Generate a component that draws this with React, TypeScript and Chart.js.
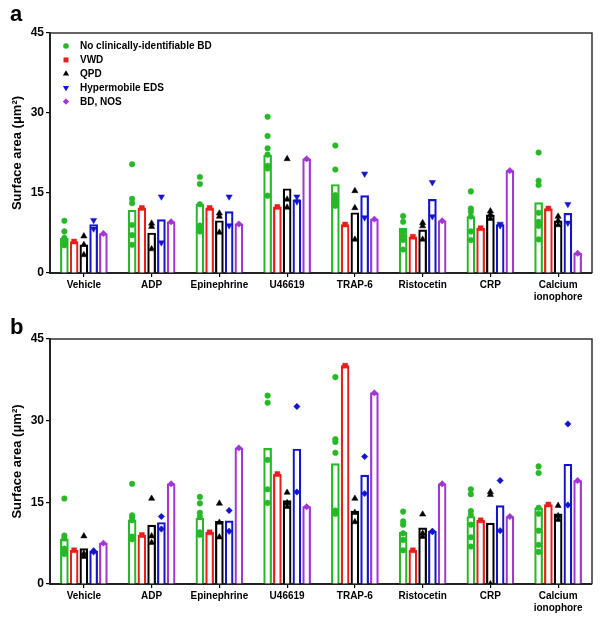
import React, { useEffect, useRef } from 'react';
import { Chart, registerables } from 'chart.js';
Chart.register(...registerables);

const categories: (string | string[])[] = ['Vehicle', 'ADP', 'Epinephrine', 'U46619', 'TRAP-6', 'Ristocetin', 'CRP', ['Calcium', 'ionophore']];
const seriesNames = ['No clinically-identifiable BD', 'VWD', 'QPD', 'Hypermobile EDS', 'BD, NOS'];
const seriesColors = ['#27b827', '#ec1c1c', '#000000', '#1414cc', '#a235d4'];
const yAxisTitle = 'Surface area (\u03bcm\u00b2)';
const yMin = 0;
const yMax = 45;
const yStep = 15;

// ---- Panel a: bar heights ----
const aNoBD = [6.5, 11.8, 12.9, 22.1, 16.6, 8.4, 10.6, 13.2];
const aVWD = [5.9, 12.2, 12.2, 12.4, 9.1, 6.8, 8.4, 12.1];
const aQPD = [5.3, 7.5, 9.8, 15.8, 11.3, 8.1, 10.9, 9.8];
const aEDS = [9.1, 10.0, 11.5, 13.7, 14.5, 13.8, 9.1, 11.2];
const aNOS = [7.4, 9.6, 9.2, 21.4, 10.1, 9.8, 19.2, 3.7];
// ---- Panel a: individual points ----
const aNoBDPts = [
  [9.8, 7.8, 6.6, 6.2, 5.8, 5.2],
  [20.4, 13.9, 13.1, 9.0, 7.1, 5.3],
  [18.0, 16.7, 12.9, 8.9, 8.4, 7.8],
  [29.3, 25.7, 23.4, 22.2, 20.1, 19.6, 14.5],
  [23.9, 19.4, 14.6, 13.8, 13.2, 12.6],
  [10.7, 9.6, 7.8, 6.9, 6.2, 4.4],
  [15.3, 12.1, 11.5, 10.6, 7.8, 6.2],
  [22.6, 17.3, 16.5, 11.3, 9.6, 8.8, 6.3],
];
const aVWDPts = [[5.9], [12.2], [12.2], [12.4], [9.1], [6.8], [8.4], [12.1]];
const aQPDPts = [[6.9, 5.3, 3.4], [9.3, 8.7, 4.5], [11.2, 10.6, 7.6], [21.4, 13.8, 12.3], [15.4, 12.2, 6.3], [9.4, 8.8, 6.3], [11.6, 11.0, 10.2], [10.6, 9.8, 9.0]];
const aEDSPts = [[9.9, 8.3], [14.3, 5.7], [14.3, 8.9], [14.3, 13.4], [18.6, 10.4], [17.0, 10.6], [9.2, 8.9], [12.9, 9.4]];
const aNOSPts = [[7.4], [9.6], [9.2], [21.4], [10.1], [9.8], [19.2], [3.7]];

// ---- Panel b: bar heights ----
const bNoBD = [8.2, 11.8, 12.1, 24.9, 22.1, 9.5, 12.4, 14.0];
const bVWD = [6.2, 9.0, 9.5, 20.2, 40.1, 6.2, 11.7, 14.6];
const bQPD = [6.5, 10.8, 11.5, 15.3, 13.4, 10.3, 11.2, 12.9];
const bEDS = [6.0, 11.3, 11.6, 24.8, 20.0, 9.7, 14.4, 22.0];
const bNOS = [7.5, 18.4, 25.0, 14.2, 35.1, 18.4, 12.4, 19.0];
// ---- Panel b: individual points ----
const bNoBDPts = [
  [15.7, 8.9, 8.4, 6.5, 5.9, 5.5],
  [18.4, 12.6, 12.3, 11.7, 8.7, 8.2],
  [16.0, 14.8, 13.1, 12.4, 9.5, 9.0],
  [34.6, 33.3, 22.8, 17.4, 14.9],
  [38.0, 26.6, 26.1, 24.1, 13.5, 12.9],
  [13.3, 11.5, 10.9, 9.3, 8.1, 6.2],
  [17.4, 16.5, 13.4, 12.7, 10.9, 8.6, 6.9],
  [21.6, 20.4, 14.0, 12.9, 9.8, 7.2, 5.9],
];
const bVWDPts = [[6.2], [9.0], [9.5], [20.2], [40.1], [6.2], [11.7], [14.6]];
const bQPDPts = [[8.8, 5.6, 5.0], [15.7, 8.8, 7.6], [14.8, 11.3, 8.6], [16.8, 14.9, 14.2], [15.7, 13.1, 11.4], [12.8, 9.3, 8.7], [16.9, 16.4, 0.0], [14.4, 12.5, 11.8]];
const bEDSPts = [[6.1, 5.9], [12.4, 10.1], [13.5, 9.7], [32.6, 16.9], [23.4, 16.6], [9.7, 9.6], [19.0, 9.8], [29.4, 14.5]];
const bNOSPts = [[7.5], [18.4], [25.0], [14.2], [35.1], [18.4], [12.4], [19.0]];

const FONT = "'Liberation Sans', Arial, Helvetica, sans-serif";
const GROUP_WIDTH = 0.72; // fraction of a category occupied by a group
const BAR_PX = 8;

type Marker = { style: string; rotation: number; radius: number };
const markersA: Marker[] = [
  { style: 'circle', rotation: 0, radius: 2.8 },
  { style: 'rect', rotation: 0, radius: 3.5 },
  { style: 'triangle', rotation: 0, radius: 3.6 },
  { style: 'triangle', rotation: 180, radius: 3.6 },
  { style: 'rectRot', rotation: 0, radius: 3.2 },
];
const markersB: Marker[] = [
  { style: 'circle', rotation: 0, radius: 2.8 },
  { style: 'rect', rotation: 0, radius: 3.5 },
  { style: 'triangle', rotation: 0, radius: 3.6 },
  { style: 'rectRot', rotation: 0, radius: 3.2 },
  { style: 'rectRot', rotation: 0, radius: 3.2 },
];

const framePlugin = {
  id: 'frameBox',
  afterDraw(chart: any) {
    const { ctx, chartArea } = chart;
    const { left, right, top, bottom } = chartArea;
    ctx.save();
    ctx.strokeStyle = '#333';
    ctx.lineWidth = 1.5;
    ctx.beginPath();
    ctx.moveTo(left, top);
    ctx.lineTo(right, top);
    ctx.lineTo(right, bottom);
    ctx.stroke();
    ctx.restore();
  },
};

function drawMarker(ctx: CanvasRenderingContext2D, m: Marker, x: number, y: number, color: string) {
  ctx.save();
  ctx.fillStyle = color;
  ctx.beginPath();
  const r = m.radius;
  if (m.style === 'circle') {
    ctx.arc(x, y, r, 0, Math.PI * 2);
  } else if (m.style === 'rect') {
    const s = r * Math.SQRT1_2;
    ctx.rect(x - s, y - s, 2 * s, 2 * s);
  } else if (m.style === 'triangle') {
    const dir = m.rotation === 180 ? -1 : 1;
    ctx.moveTo(x, y - dir * r);
    ctx.lineTo(x - r * 0.866, y + dir * r * 0.5);
    ctx.lineTo(x + r * 0.866, y + dir * r * 0.5);
  } else {
    ctx.moveTo(x, y - r);
    ctx.lineTo(x + r, y);
    ctx.lineTo(x, y + r);
    ctx.lineTo(x - r, y);
  }
  ctx.closePath();
  ctx.fill();
  ctx.restore();
}

const legendPlugin = {
  id: 'insideLegend',
  afterDraw(chart: any) {
    const opts = chart.options.plugins.insideLegend;
    if (!opts || !opts.display) return;
    const { ctx, chartArea } = chart;
    const items = chart.data.datasets.filter((d: any) => d.type === 'scatter');
    ctx.save();
    ctx.font = `bold 10px ${FONT}`;
    ctx.textBaseline = 'middle';
    items.forEach((d: any, i: number) => {
      const y = chartArea.top + 13 + i * 13.9;
      const x = chartArea.left + 16;
      drawMarker(ctx, d.marker, x, y, d.pointBackgroundColor);
      ctx.fillStyle = '#000';
      ctx.fillText(d.label, x + 14, y + 0.5);
    });
    ctx.restore();
  },
};

function buildConfig(letter: string, bars: number[][], pts: number[][][], markers: Marker[], showLegend: boolean, padTop: number, titlePad: { top: number; bottom: number }) {
  const datasets: any[] = [];
  bars.forEach((vals, k) => {
    const offset = (k - 2) * (GROUP_WIDTH / 5);
    datasets.push({
      type: 'bar',
      label: seriesNames[k] + ' mean',
      data: vals.map((v, i) => ({ x: i + offset, y: v })),
      backgroundColor: '#ffffff',
      borderColor: seriesColors[k],
      borderWidth: 2.2,
      barThickness: BAR_PX,
      grouped: false,
      order: 2,
    });
  });
  pts.forEach((perCat, k) => {
    const offset = (k - 2) * (GROUP_WIDTH / 5);
    const data: { x: number; y: number }[] = [];
    perCat.forEach((list, i) => list.forEach((v) => data.push({ x: i + offset, y: v })));
    datasets.push({
      type: 'scatter',
      label: seriesNames[k],
      data,
      pointStyle: markers[k].style,
      rotation: markers[k].rotation,
      pointRadius: markers[k].radius,
      pointBackgroundColor: seriesColors[k],
      pointBorderColor: seriesColors[k],
      pointBorderWidth: 0.5,
      marker: markers[k],
      order: 1,
    });
  });

  return {
    type: 'bar',
    data: { datasets },
    plugins: [framePlugin, legendPlugin],
    options: {
      animation: false,
      responsive: false,
      maintainAspectRatio: false,
      layout: { padding: { left: 10, right: 12, top: padTop, bottom: 0 } },
      plugins: {
        legend: { display: false },
        tooltip: { enabled: false },
        title: {
          display: true,
          text: letter,
          align: 'start',
          color: '#000',
          font: { family: FONT, size: 22, weight: 'bold', lineHeight: 1 },
          padding: titlePad,
        },
        insideLegend: { display: showLegend },
      },
      scales: {
        x: {
          type: 'linear',
          min: -0.5,
          max: categories.length - 0.5,
          offset: false,
          afterBuildTicks: (s: any) => { s.ticks = categories.map((_, i) => ({ value: i })); },
          grid: { offset: false, drawOnChartArea: false, drawTicks: true, tickLength: 4, color: '#000', lineWidth: 1.2 },
          border: { color: '#222', width: 2 },
          ticks: {
            color: '#000',
            font: { family: FONT, size: 10, weight: 'bold' },
            padding: 2,
            maxRotation: 0,
            autoSkip: false,
            callback: (v: number) => categories[Math.round(v)],
          },
          afterFit: (s: any) => { s.height = 33; },
        },
        y: {
          min: yMin,
          max: yMax,
          ticks: { stepSize: yStep, color: '#000', font: { family: FONT, size: 12, weight: 'bold' }, padding: 2 },
          grid: { drawOnChartArea: false, drawTicks: true, tickLength: 4, color: '#000', lineWidth: 1.2 },
          border: { color: '#222', width: 2 },
          title: { display: true, text: yAxisTitle, color: '#000', font: { family: FONT, size: 13, weight: 'bold' }, padding: { top: 0, bottom: 0 } },
          afterFit: (s: any) => { s.width = 40; },
        },
      },
    },
  };
}

function Panel(props: { letter: string; bars: number[][]; pts: number[][][]; markers: Marker[]; legend: boolean; top: number; height: number; padTop: number; titlePad: { top: number; bottom: number } }) {
  const ref = useRef<HTMLCanvasElement>(null);
  useEffect(() => {
    if (!ref.current) return;
    const chart = new Chart(ref.current, buildConfig(props.letter, props.bars, props.pts, props.markers, props.legend, props.padTop, props.titlePad) as any);
    return () => chart.destroy();
  }, []);
  return (
    <canvas ref={ref} width={604} height={props.height} style={{ position: 'absolute', left: 0, top: props.top, width: 604, height: props.height, display: 'block' }} />
  );
}

export default function App() {
  return (
    <div style={{ position: 'absolute', left: 0, top: 0, width: 604, height: 617, overflow: 'hidden', background: '#fff' }}>
      <Panel letter="a" bars={[aNoBD, aVWD, aQPD, aEDS, aNOS]} pts={[aNoBDPts, aVWDPts, aQPDPts, aEDSPts, aNOSPts]} markers={markersA} legend={true} top={0} height={306} padTop={0} titlePad={{ top: 4, bottom: 7 }} />
      <Panel letter="b" bars={[bNoBD, bVWD, bQPD, bEDS, bNOS]} pts={[bNoBDPts, bVWDPts, bQPDPts, bEDSPts, bNOSPts]} markers={markersB} legend={false} top={306} height={311} padTop={10} titlePad={{ top: 1, bottom: 0 }} />
    </div>
  );
}
